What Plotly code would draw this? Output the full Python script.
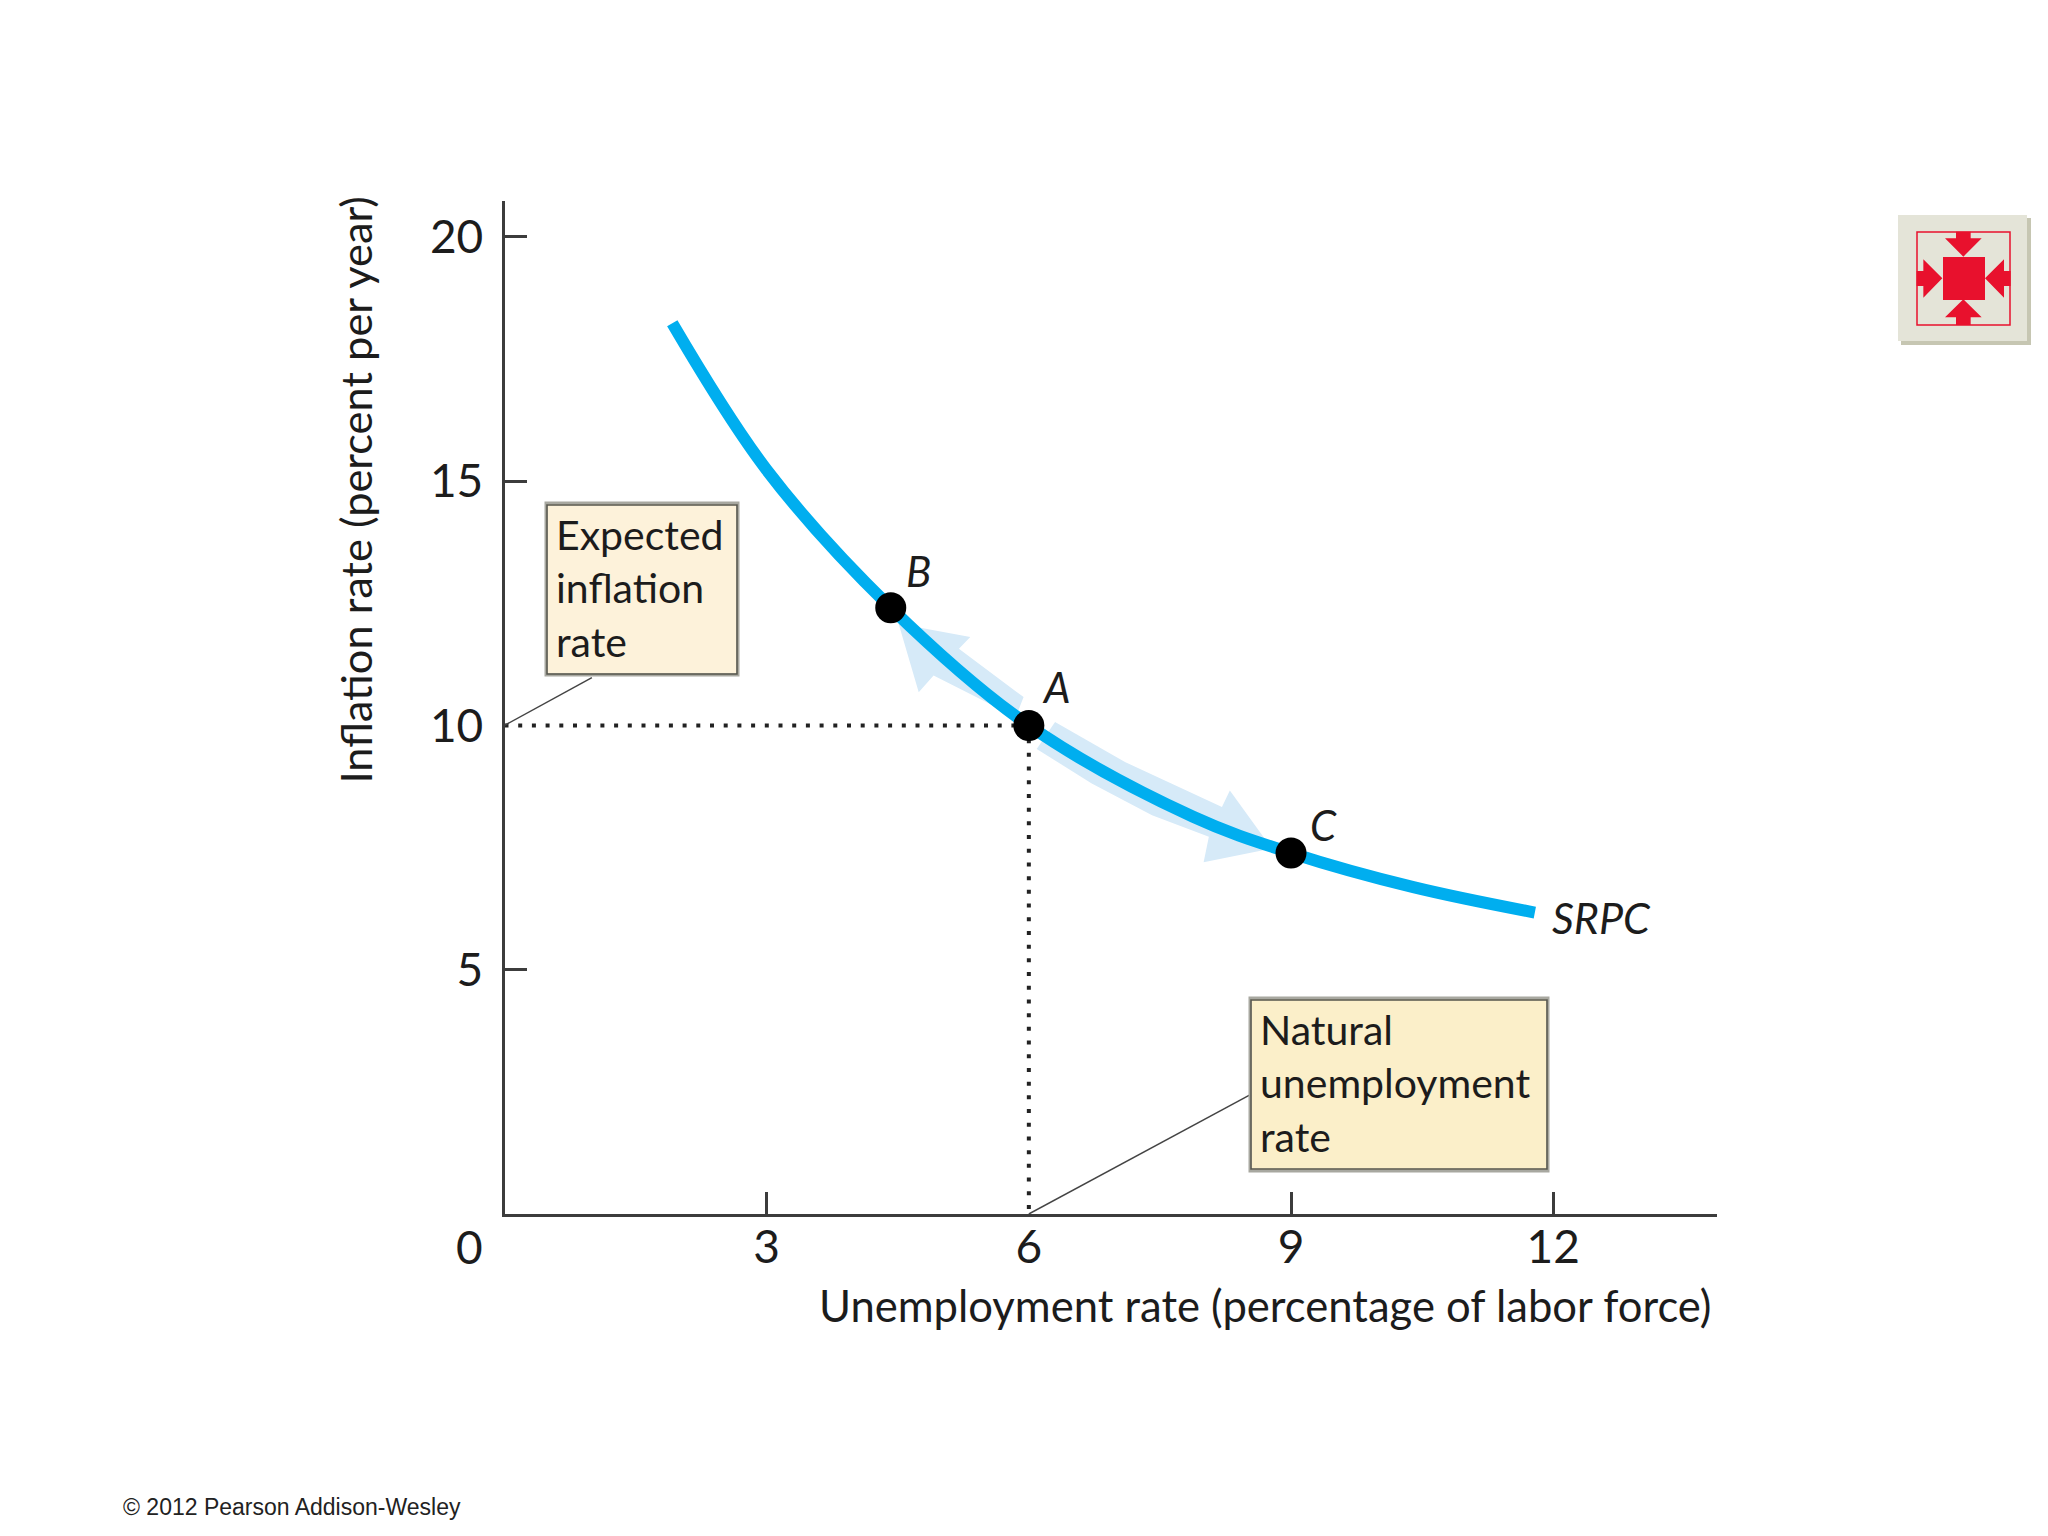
import plotly.graph_objects as go

# short-run phillips curve
curve_x = [1.92, 3.0, 4.42, 6.0, 7.88, 9.0, 10.4, 11.79]
curve_y = [18.23, 15.23, 12.41, 10.0, 8.13, 7.39, 6.69, 6.17]

point_names = ["B", "A", "C"]
point_x = [4.42, 6.0, 9.0]
point_y = [12.41, 10.0, 7.39]

natural_rate = 6
expected_inflation = 10

# light blue arrows along the curve
arrow_b_x = [4.51, 5.33, 5.2, 5.94, 5.85, 4.91, 4.74, 4.51]
arrow_b_y = [12.08, 11.81, 11.57, 10.58, 10.17, 11.02, 10.68, 12.08]
arrow_c_x = [6.3, 7.1, 8.21, 8.3, 8.78, 8.0, 8.06, 7.41, 6.72, 6.09, 6.3]
arrow_c_y = [10.07, 9.25, 8.33, 8.67, 7.48, 7.2, 7.72, 8.16, 8.81, 9.52, 10.07]

x_ticks = [3, 6, 9, 12]
y_ticks = [5, 10, 15, 20]
x_marks = [3, 9, 12]
y_marks = [5, 15, 20]

W, H = 2048, 1536
FONT = "Lato"
INK = "#1c1c1c"
AXIS = "#3c3c3c"
RED = "#E8112D"


def px(x):
    return x / W


def py(y):
    return 1 - y / H


def rect(x0, y0, x1, y1, fill=None, line=None, width=0):
    return dict(type="rect", xref="paper", yref="paper", x0=px(x0), y0=py(y0), x1=px(x1), y1=py(y1),
                fillcolor=fill or "rgba(0,0,0,0)", line=dict(color=line or "rgba(0,0,0,0)", width=width), layer="above")


def poly(points, fill):
    # points are in the 3x zoom coords of the little button
    path = ""
    for i, (a, b) in enumerate(points):
        path += ("M" if i == 0 else "L") + f"{px(1880 + a / 3):.5f},{py(190 + b / 3):.5f} "
    return dict(type="path", xref="paper", yref="paper", path=path + "Z", fillcolor=fill, line=dict(width=0), layer="above")


def label(text, x, y, size=40, anchor="left", font=FONT, color=INK, angle=0, align="left"):
    return dict(text=text, x=px(x), y=py(y), xref="paper", yref="paper", showarrow=False, xanchor=anchor, yanchor="middle",
                align=align, textangle=angle, font=dict(family=font, size=size, color=color))


def point_label(text, x, y, dx, dy):
    return dict(text=f"<i>{text}</i>", x=x, y=y, xref="x", yref="y", showarrow=False, xshift=dx, yshift=dy,
                font=dict(family=FONT, size=42, color=INK))


fig = go.Figure()

fig.add_trace(go.Scatter(x=arrow_b_x, y=arrow_b_y, mode="lines", fill="toself", fillcolor="#D6EAF8", line=dict(width=0), hoverinfo="skip"))
fig.add_trace(go.Scatter(x=arrow_c_x, y=arrow_c_y, mode="lines", fill="toself", fillcolor="#D6EAF8", line=dict(width=0), hoverinfo="skip"))

# dotted guides
fig.add_trace(go.Scatter(x=[0, natural_rate], y=[expected_inflation, expected_inflation], mode="lines",
                         line=dict(color="#222222", width=4, dash="4px,9.7px")))
fig.add_trace(go.Scatter(x=[natural_rate, natural_rate], y=[expected_inflation, 0], mode="lines",
                         line=dict(color="#222222", width=4, dash="4px,9.7px")))

fig.add_trace(go.Scatter(x=curve_x, y=curve_y, mode="lines", line=dict(color="#00AEEF", width=12, shape="spline", smoothing=1)))
fig.add_trace(go.Scatter(x=point_x, y=point_y, mode="markers", marker=dict(color="black", size=31)))

shapes = [
    # leader lines
    dict(type="line", xref="x", yref="y", x0=0, y0=expected_inflation, x1=1.0, y1=10.98, line=dict(color="#444444", width=1.5)),
    dict(type="line", xref="x", yref="y", x0=natural_rate, y0=0, x1=8.53, y1=2.44, line=dict(color="#444444", width=1.5)),
    # callout boxes
    rect(546, 503, 738, 675, fill="#FDF2DA", line="#A8A8A0", width=3),
    rect(547, 505, 737, 674, line="#55554C", width=1.5),
    rect(1250, 998, 1548, 1171, fill="#FBEFC9", line="#A8A8A0", width=3),
    rect(1251, 1000, 1547, 1169, line="#55554C", width=1.5),
    # the red button on the right
    rect(1901, 218, 2031, 345, fill="#C6C6B2"),
    rect(1898, 215, 2027, 341, fill="#E4E4D8"),
    rect(1917, 232, 2010, 325, line=RED, width=1.5),
    rect(1943, 257, 1985, 300, fill=RED),
    poly([(228, 125), (272, 125), (272, 145), (305, 145), (250, 200), (195, 145), (228, 145)], RED),
    poly([(228, 405), (272, 405), (272, 382), (305, 382), (250, 328), (195, 382), (228, 382)], RED),
    poly([(110, 243), (130, 243), (130, 208), (187, 265), (130, 323), (130, 288), (110, 288)], RED),
    poly([(392, 243), (372, 243), (372, 208), (315, 265), (372, 323), (372, 288), (392, 288)], RED),
]

annotations = [
    point_label(point_names[0], point_x[0], point_y[0], 28, 37),
    point_label(point_names[1], point_x[1], point_y[1], 28, 38),
    point_label(point_names[2], point_x[2], point_y[2], 32, 28),
    label("<i>SRPC</i>", 1601, 917, size=43, anchor="center"),
    label("Expected<br>inflation<br>rate", 554, 588, size=41),
    label("Natural<br>unemployment<br>rate", 1258, 1083, size=41),
    label("0", 469, 1246, size=46, anchor="center"),
    label("Unemployment rate (percentage of labor force)", 1713, 1305, size=43.6, anchor="right"),
    label("Inflation rate (percent per year)", 354, 490.5, size=43.4, anchor="center", angle=-90),
    label("© 2012 Pearson Addison-Wesley", 121, 1507, size=23, font="Liberation Sans", color="#222222"),
]

fig.update_layout(
    width=W, height=H,
    margin=dict(l=0, r=0, t=0, b=0),
    paper_bgcolor="white", plot_bgcolor="white",
    showlegend=False,
    shapes=shapes,
    annotations=annotations,
    font=dict(family=FONT, color=INK),
)
fig.update_xaxes(
    domain=[px(504.5), px(1716.6)], range=[0, 13.87],
    tickmode="array", tickvals=x_ticks, ticks="", ticklabelstandoff=-9,
    tickfont=dict(size=46, family=FONT, color=INK),
    minor=dict(tickmode="array", tickvals=x_marks, ticks="inside", ticklen=22, tickwidth=3, tickcolor=AXIS),
    showgrid=False, zeroline=False, showline=True, linecolor=AXIS, linewidth=3,
)
fig.update_yaxes(
    domain=[py(1214), py(200.7)], range=[0, 20.74],
    tickmode="array", tickvals=y_ticks, ticks="", ticklabelstandoff=9,
    tickfont=dict(size=46, family=FONT, color=INK),
    minor=dict(tickmode="array", tickvals=y_marks, ticks="inside", ticklen=22, tickwidth=3, tickcolor=AXIS),
    showgrid=False, zeroline=False, showline=True, linecolor=AXIS, linewidth=3,
)

fig.write_html("out.html", post_script="document.body.style.margin='0';", config=dict(displayModeBar=False))
